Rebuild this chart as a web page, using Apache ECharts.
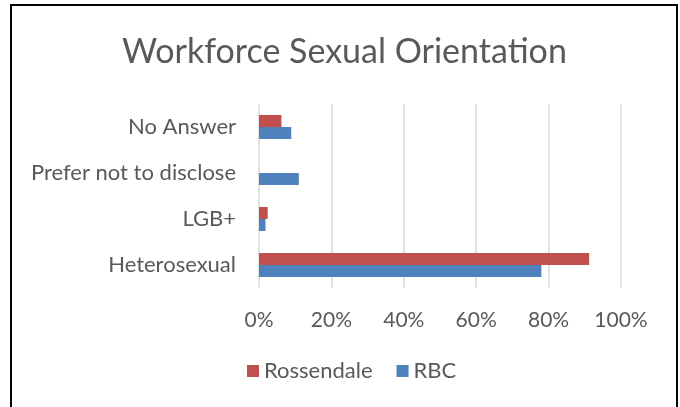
<!DOCTYPE html>
<html><head><meta charset="utf-8">
<script src="https://cdn.jsdelivr.net/npm/echarts@6/dist/echarts.min.js"></script>
<style>html,body{margin:0;padding:0;background:#fff}#c{width:680px;height:407px}</style>
</head><body><div id="c"></div>
<script>
const categories = ['Heterosexual', 'LGB+', 'Prefer not to disclose', 'No Answer'];
const rossendale = [91.2, 2.4, 0, 6.2];
const rbc = [78.0, 1.8, 11.0, 8.9];
const xTicks = [0, 20, 40, 60, 80, 100];

const chart = echarts.init(document.getElementById('c'), null, {renderer: 'canvas'});
const font = 'Lato';
chart.setOption({
  animation: false,
  backgroundColor: '#fff',
  graphic: [{type: 'rect', shape: {x: 11, y: 5, width: 666, height: 420}, style: {fill: 'none', stroke: '#000', lineWidth: 2}, silent: true}],
  title: {text: 'Workforce Sexual Orientation', left: 117, top: 30,
    textStyle: {fontFamily: font, fontSize: 34, fontWeight: 'normal', color: '#595959'}},
  legend: {data: ['Rossendale', 'RBC'], bottom: 20, left: 242, itemWidth: 12, itemHeight: 12, itemGap: 24,
    icon: 'rect', textStyle: {fontFamily: font, fontSize: 22, color: '#595959'}},
  grid: {left: 259, right: 59, top: 104, bottom: 119, containLabel: false},
  xAxis: {type: 'value', min: 0, max: 100, interval: 20,
    axisLabel: {formatter: v => xTicks.includes(v) ? v + '%' : '', fontFamily: font, fontSize: 21, color: '#595959', margin: 22},
    axisLine: {show: false}, axisTick: {show: false},
    splitLine: {lineStyle: {color: '#D9D9D9', width: 1.5}}},
  yAxis: {type: 'category', data: categories,
    axisLabel: {fontFamily: font, fontSize: 22, color: '#595959', margin: 23},
    axisLine: {show: false}, axisTick: {show: false}},
  series: [
    {name: 'Rossendale', type: 'bar', data: rossendale, itemStyle: {color: '#C0504D'}, barWidth: 12, barGap: '0%', barCategoryGap: '48%'},
    {name: 'RBC', type: 'bar', data: rbc, itemStyle: {color: '#4F81BD'}, barWidth: 12, barGap: '0%'}
  ]
});
</script></body></html>
